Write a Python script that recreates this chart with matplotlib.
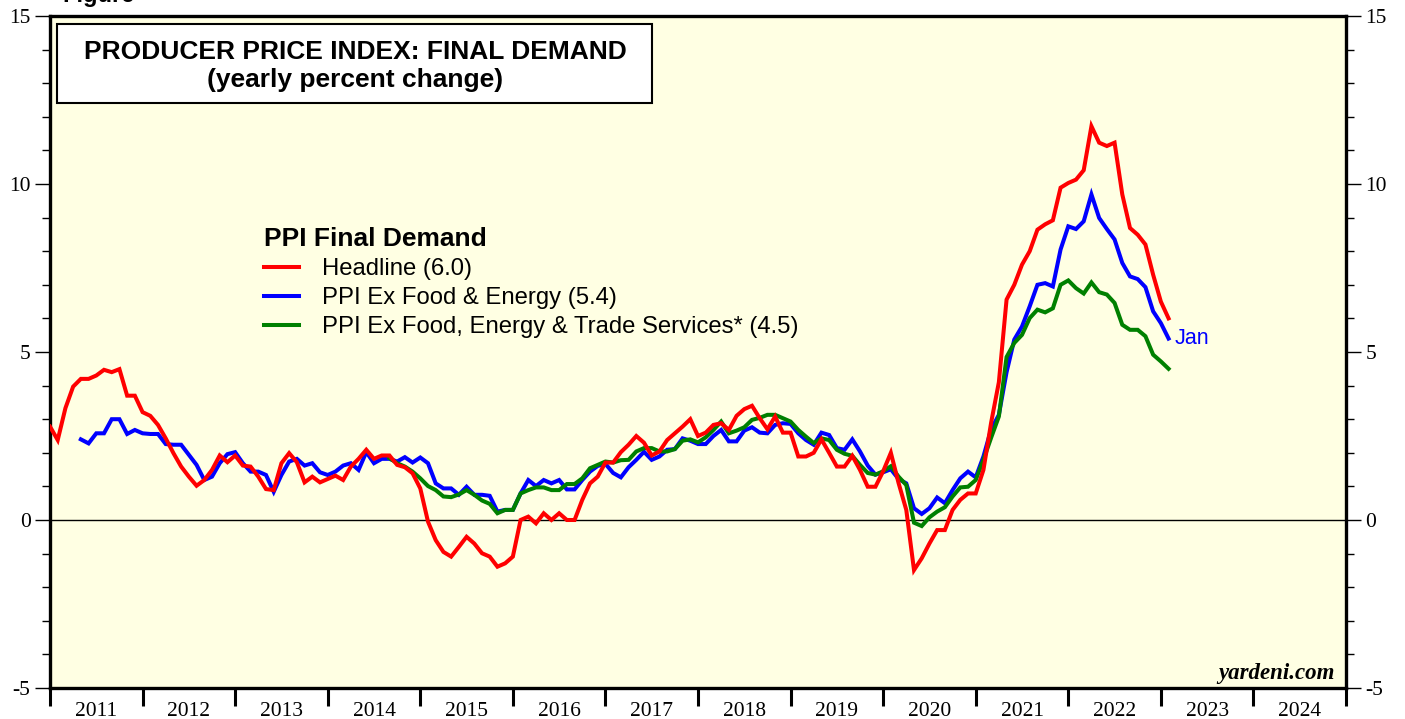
import matplotlib
matplotlib.use("Agg")
import matplotlib.pyplot as plt
import numpy as np
from matplotlib.patches import Rectangle
from matplotlib.ticker import FixedLocator, NullFormatter

# ---- data (yearly % change, monthly; first point = start of 2011) ----
start_year = 2011
headline = [2.78, 2.38, 3.33, 3.97, 4.2, 4.2, 4.3, 4.47, 4.4, 4.49, 3.7, 3.7,
            3.21, 3.1, 2.83, 2.43, 1.99, 1.59, 1.29, 1.02, 1.19, 1.49, 1.92, 1.72,
            1.92, 1.62, 1.59, 1.29, 0.92, 0.89, 1.69, 1.99, 1.72, 1.12, 1.29, 1.12,
            1.22, 1.32, 1.19, 1.59, 1.82, 2.09, 1.82, 1.92, 1.92, 1.64, 1.57, 1.39,
            0.94, -0.05, -0.6, -0.95, -1.09, -0.8, -0.5, -0.7, -0.99, -1.09, -1.39, -1.29,
            -1.09, 0.0, 0.1, -0.1, 0.2, 0.0, 0.2, 0.0, 0.0, 0.6, 1.09, 1.29,
            1.71, 1.71, 2.02, 2.24, 2.5, 2.3, 1.92, 2.04, 2.38, 2.58, 2.78, 3.0,
            2.5, 2.6, 2.83, 2.88, 2.68, 3.1, 3.3, 3.4, 3.03, 2.7, 3.08, 2.6,
            2.6, 1.89, 1.89, 2.0, 2.4, 2.0, 1.59, 1.59, 1.91, 1.49, 0.99, 0.99,
            1.45, 2.0, 1.1, 0.3, -1.49, -1.14, -0.7, -0.3, -0.3, 0.3, 0.6, 0.79,
            0.79, 1.49, 2.9, 4.1, 6.56, 7.0, 7.6, 8.0, 8.64, 8.8, 8.92, 9.89,
            10.03, 10.13, 10.41, 11.72, 11.23, 11.13, 11.23, 9.69, 8.69, 8.49, 8.2, 7.3,
            6.5, 6.0]

core_start = 4
core = [2.4, 2.28, 2.58, 2.58, 3.0, 3.0, 2.56, 2.68,
        2.58, 2.56, 2.56, 2.26, 2.24, 2.24, 1.94, 1.64, 1.19, 1.29, 1.69, 1.96,
        2.02, 1.69, 1.44, 1.44, 1.34, 0.84, 1.34, 1.74, 1.82, 1.62, 1.69, 1.42,
        1.34, 1.44, 1.62, 1.69, 1.49, 2.02, 1.69, 1.82, 1.82, 1.74, 1.87, 1.71,
        1.86, 1.69, 1.09, 0.94, 0.94, 0.75, 0.99, 0.75, 0.75, 0.72, 0.25, 0.3,
        0.3, 0.79, 1.19, 1.01, 1.19, 1.09, 1.19, 0.91, 0.91, 1.19, 1.44, 1.61,
        1.67, 1.4, 1.27, 1.57, 1.79, 2.03, 1.79, 1.89, 2.09, 2.11, 2.43, 2.36,
        2.26, 2.26, 2.5, 2.68, 2.34, 2.34, 2.66, 2.76, 2.6, 2.58, 2.83, 2.88,
        2.86, 2.58, 2.38, 2.24, 2.6, 2.53, 2.14, 2.09, 2.4, 2.04, 1.62, 1.35,
        1.42, 1.51, 1.22, 1.09, 0.35, 0.18, 0.35, 0.67, 0.5, 0.89, 1.24, 1.44,
        1.27, 1.89, 2.7, 3.13, 4.4, 5.37, 5.76, 6.36, 7.0, 7.05, 6.95, 8.05,
        8.74, 8.66, 8.89, 9.69, 8.99, 8.66, 8.35, 7.65, 7.25, 7.17, 6.93, 6.21,
        5.86, 5.4]

xtrade_start = 44
xtrade = [1.84, 1.69, 1.59, 1.44,
          1.24, 1.01, 0.89, 0.7, 0.68, 0.76, 0.89, 0.75, 0.58, 0.48, 0.2, 0.3,
          0.3, 0.79, 0.89, 0.97, 0.97, 0.89, 0.89, 1.07, 1.07, 1.24, 1.54, 1.64,
          1.74, 1.71, 1.78, 1.79, 2.04, 2.14, 2.14, 2.04, 2.04, 2.11, 2.36, 2.4,
          2.31, 2.46, 2.68, 2.93, 2.58, 2.66, 2.76, 2.98, 3.04, 3.13, 3.13, 3.03,
          2.93, 2.68, 2.48, 2.29, 2.43, 2.38, 2.09, 1.97, 1.91, 1.64, 1.4, 1.35,
          1.45, 1.6, 1.29, 1.04, -0.08, -0.18, 0.08, 0.25, 0.38, 0.7, 0.97, 0.99,
          1.19, 1.79, 2.45, 3.08, 4.85, 5.27, 5.51, 6.01, 6.26, 6.18, 6.3, 7.0,
          7.13, 6.9, 6.74, 7.07, 6.78, 6.71, 6.46, 5.81, 5.66, 5.66, 5.47, 4.92,
          4.72, 4.5]

years = list(range(2011, 2025))
labels = ["Headline (6.0)", "PPI Ex Food & Energy (5.4)",
          "PPI Ex Food, Energy & Trade Services* (4.5)"]

def xs(offset, n):
    return start_year + (offset + np.arange(n)) / 12.0

# ---- figure ----
fig = plt.figure(figsize=(14.05, 7.19), dpi=100)
fig.patch.set_facecolor("white")
ax = fig.add_axes([50/1405, 1 - 688/719, 1296/1405, 672/719])
ax.set_facecolor("#FFFFE3")

ax.plot(xs(0, len(headline)), headline, color="#FF0000", lw=2.9, zorder=4,
        label=labels[0], solid_joinstyle="miter")
ax.plot(xs(core_start, len(core)), core, color="#0000FF", lw=2.9, zorder=2,
        label=labels[1], solid_joinstyle="miter")
ax.plot(xs(xtrade_start, len(xtrade)), xtrade, color="#008000", lw=2.9, zorder=3,
        label=labels[2], solid_joinstyle="miter")
ax.axhline(0, color="black", lw=1.0, zorder=1)

ax.set_xlim(2011, 2025)
ax.set_ylim(-5, 15)

serif = "Liberation Serif"
sans = "Liberation Sans"
tick_fs = 15.5

# y axis: both sides
ax.yaxis.set_major_locator(FixedLocator([-5, 0, 5, 10, 15]))
ax.yaxis.set_minor_locator(FixedLocator(list(range(-5, 16))))
ax.tick_params(axis="y", which="major", direction="out", length=11, width=1.0,
               left=True, right=True, labelleft=True, labelright=True, pad=3)
ax.tick_params(axis="y", which="minor", direction="out", length=6, width=1.0,
               left=True, right=True)
ax.set_yticklabels(["-5", "0", "5", "10", "15"], fontfamily=serif, fontsize=tick_fs)
for lab in ax.yaxis.get_ticklabels(which="major") + [t.label2 for t in ax.yaxis.get_major_ticks()]:
    lab.set_fontfamily(serif)
    lab.set_fontsize(tick_fs)

# x axis: ticks at year boundaries, labels mid-year
ax.xaxis.set_major_locator(FixedLocator(years + [2025]))
ax.xaxis.set_major_formatter(NullFormatter())
ax.xaxis.set_minor_locator(FixedLocator([y + 0.5 for y in years]))
ax.set_xticklabels([str(y) for y in years], minor=True, fontfamily=serif, fontsize=tick_fs)
ax.tick_params(axis="x", which="major", direction="out", length=13, width=2.2)
ax.tick_params(axis="x", which="minor", length=0, pad=10)

for s in ax.spines.values():
    s.set_linewidth(2.4)
    s.set_color("black")

# title box
ax.add_patch(Rectangle((7/1296, 0.8705), 595/1296, 0.1175, transform=ax.transAxes,
                       facecolor="white", edgecolor="black", lw=1.5, zorder=5))
ax.text(305/1296, (688-52)/672, "PRODUCER PRICE INDEX: FINAL DEMAND", transform=ax.transAxes,
        ha="center", va="center", fontsize=19, fontweight="bold", fontfamily=sans, zorder=6)
ax.text(305/1296, (688-80)/672, "(yearly percent change)", transform=ax.transAxes,
        ha="center", va="center", fontsize=19, fontweight="bold", fontfamily=sans, zorder=6)

# legend
leg = ax.legend(loc="upper left", bbox_to_anchor=(214/1296, (688-227)/672),
                frameon=False, title="PPI Final Demand", alignment="left",
                prop={"family": sans, "size": 17.2},
                title_fontproperties={"family": sans, "size": 19, "weight": "bold"},
                handlelength=1.47, handletextpad=0.96, labelspacing=0.3, borderpad=0,
                borderaxespad=0)
for h in leg.get_lines():
    h.set_linewidth(2.9)

# Jan label
ax.annotate("Jan", xy=(xs(core_start, len(core))[-1], core[-1]), xytext=(4.5, 0.0),
            textcoords="offset points", ha="left", va="center", color="#0000FF",
            fontsize=15.5, fontfamily=sans)

ax.text(0.9915, 0.006, "yardeni.com", transform=ax.transAxes, ha="right", va="bottom",
        fontsize=16.5, fontweight="bold", fontstyle="italic", fontfamily=serif)

fig.text(62/1405, 1 - 2/719, "Figure", ha="left", va="baseline", fontsize=17,
         fontweight="bold", fontfamily=sans)

fig.savefig("out.png", dpi=100)
